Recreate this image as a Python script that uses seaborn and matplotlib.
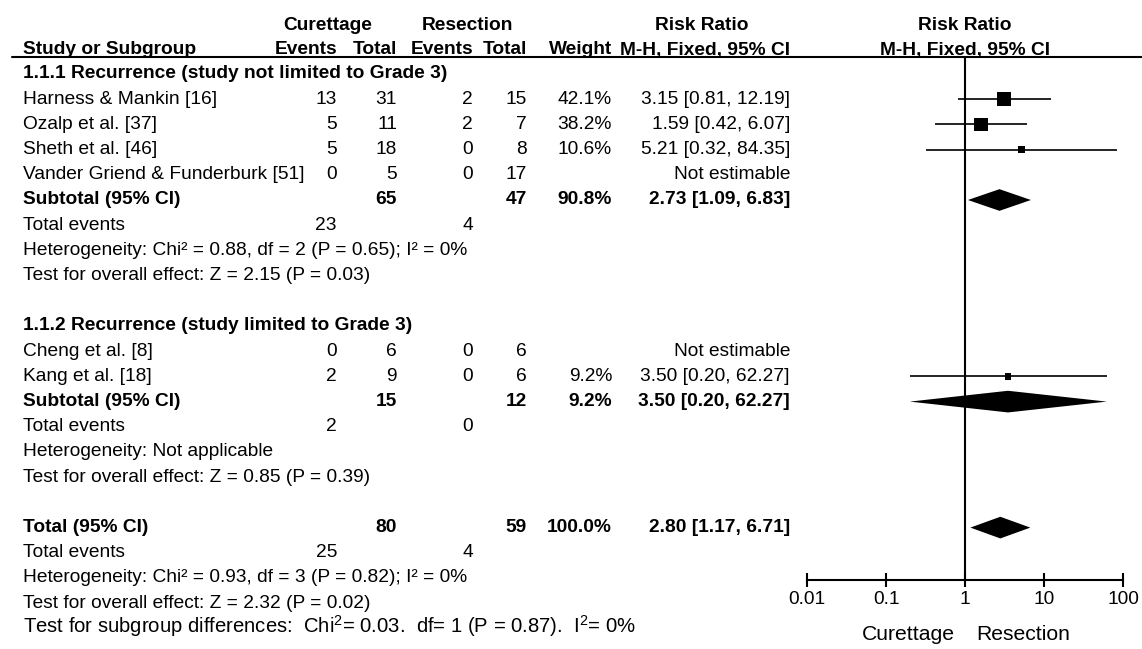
import numpy as np
import pandas as pd
import matplotlib.pyplot as plt
import seaborn as sns

# ---- data ----
groups = ["1.1.1 Recurrence (study not limited to Grade 3)",
          "1.1.2 Recurrence (study limited to Grade 3)"]

studies = ["Harness & Mankin [16]", "Ozalp et al. [37]", "Sheth et al. [46]",
           "Vander Griend & Funderburk [51]", "Cheng et al. [8]", "Kang et al. [18]"]
study_group = [0, 0, 0, 0, 1, 1]
cur_events = [13, 5, 5, 0, 0, 2]
cur_total = [31, 11, 18, 5, 6, 9]
res_events = [2, 2, 0, 0, 0, 0]
res_total = [15, 7, 8, 17, 6, 6]
weights = [42.1, 38.2, 10.6, np.nan, np.nan, 9.2]
rr = [3.15, 1.59, 5.21, np.nan, np.nan, 3.50]
rr_lo = [0.81, 0.42, 0.32, np.nan, np.nan, 0.20]
rr_hi = [12.19, 6.07, 84.35, np.nan, np.nan, 62.27]

# subtotal 1.1.1, subtotal 1.1.2, overall total
pooled_label = ["Subtotal (95% CI)", "Subtotal (95% CI)", "Total (95% CI)"]
pooled_cur_total = [65, 15, 80]
pooled_res_total = [47, 12, 59]
pooled_cur_events = [23, 2, 25]
pooled_res_events = [4, 0, 4]
pooled_weight = [90.8, 9.2, 100.0]
pooled_rr = [2.73, 3.50, 2.80]
pooled_lo = [1.09, 0.20, 1.17]
pooled_hi = [6.83, 62.27, 6.71]
heterogeneity = ["Heterogeneity: Chi² = 0.88, df = 2 (P = 0.65); I² = 0%",
                 "Heterogeneity: Not applicable",
                 "Heterogeneity: Chi² = 0.93, df = 3 (P = 0.82); I² = 0%"]
overall_effect = ["Test for overall effect: Z = 2.15 (P = 0.03)",
                  "Test for overall effect: Z = 0.85 (P = 0.39)",
                  "Test for overall effect: Z = 2.32 (P = 0.02)"]
subgroup_diff = "Test for subgroup differences:  Chi$^2$= 0.03.  df= 1 (P = 0.87).  I$^2$= 0%"

tick_vals = [0.01, 0.1, 1, 10, 100]
tick_labels = ["0.01", "0.1", "1", "10", "100"]

# ---- style ----
sns.set_theme(style="white")
plt.rcParams["font.family"] = ["Liberation Sans", "DejaVu Sans"]
plt.rcParams["mathtext.fontset"] = "custom"
plt.rcParams["mathtext.rm"] = "Liberation Sans"
plt.rcParams["mathtext.it"] = "Liberation Sans:italic"
plt.rcParams["mathtext.bf"] = "Liberation Sans:bold"
FS = 13.8
W, H = 1142, 649
Y0, DY = 74, 25.2  # pixel centre of first table row and row pitch


def ypix(r):
    return Y0 + DY * r


# ---- build table row order ----
rows = []  # (kind, index)
for g in range(2):
    rows.append(("group", g))
    for i, sg in enumerate(study_group):
        if sg == g:
            rows.append(("study", i))
    rows += [("pooled", g), ("events", g), ("het", g), ("effect", g), ("blank", None)]
rows += [("pooled", 2), ("events", 2), ("het", 2), ("effect", 2), ("subgroup", None)]

fig = plt.figure(figsize=(W / 100, H / 100), dpi=100)
tax = fig.add_axes([0, 0, 1, 1])
tax.set_xlim(0, W)
tax.set_ylim(H, 0)
tax.axis("off")

col_x = [337, 397, 473, 527, 612, 790]


def put(x, y, s, ha="left", bold=False, size=FS):
    tax.text(x, y, s, ha=ha, va="center", fontsize=size,
             fontweight="bold" if bold else "normal", color="black")


# headers
for x, s in [(328, "Curettage"), (467, "Resection"), (702, "Risk Ratio"), (965, "Risk Ratio")]:
    put(x, 25, s, ha="center", bold=True)
put(23, 50, "Study or Subgroup", bold=True)
for x, s in zip(col_x, ["Events", "Total", "Events", "Total", "Weight", "M-H, Fixed, 95% CI"]):
    put(x, 50, s, ha="right", bold=True)
put(965, 50, "M-H, Fixed, 95% CI", ha="center", bold=True)
tax.plot([12, W], [57, 57], color="black", lw=1.5)

study_rows = {}
pooled_rows = {}
for r, (kind, k) in enumerate(rows):
    y = ypix(r)
    if kind == "group":
        put(23, y, groups[k], bold=True)
    elif kind == "study":
        study_rows[k] = r
        put(23, y, studies[k])
        vals = [cur_events[k], cur_total[k], res_events[k], res_total[k]]
        for x, v in zip(col_x[:4], vals):
            put(x, y, str(v), ha="right")
        if np.isnan(rr[k]):
            put(col_x[5], y, "Not estimable", ha="right")
        else:
            put(col_x[4], y, f"{weights[k]:.1f}%", ha="right")
            put(col_x[5], y, f"{rr[k]:.2f} [{rr_lo[k]:.2f}, {rr_hi[k]:.2f}]", ha="right")
    elif kind == "pooled":
        pooled_rows[k] = r
        put(23, y, pooled_label[k], bold=True)
        put(col_x[1], y, str(pooled_cur_total[k]), ha="right", bold=True)
        put(col_x[3], y, str(pooled_res_total[k]), ha="right", bold=True)
        put(col_x[4], y, f"{pooled_weight[k]:.1f}%", ha="right", bold=True)
        put(col_x[5], y, f"{pooled_rr[k]:.2f} [{pooled_lo[k]:.2f}, {pooled_hi[k]:.2f}]",
            ha="right", bold=True)
    elif kind == "events":
        put(23, y, "Total events")
        put(col_x[0], y, str(pooled_cur_events[k]), ha="right")
        put(col_x[2], y, str(pooled_res_events[k]), ha="right")
    elif kind == "het":
        put(23, y, heterogeneity[k])
    elif kind == "effect":
        put(23, y, overall_effect[k])
    elif kind == "subgroup":
        put(23, y - 2, subgroup_diff, size=14.6)

# ---- forest panel on a log scale ----
top_px, axis_px = 57, 580
fax = fig.add_axes([807 / W, 1 - axis_px / H, 316 / W, (axis_px - top_px) / H])
fax.patch.set_alpha(0)

df = pd.DataFrame({"rr": rr, "lo": rr_lo, "hi": rr_hi, "weight": weights,
                   "row": [study_rows[i] for i in range(len(studies))]}).dropna()

fax.set_xscale("log")
fax.axvline(1, color="black", lw=1.5, zorder=1)
fax.hlines(df["row"], df["lo"], df["hi"], color="black", lw=1.2, zorder=2)
k_area = 2.5  # marker area (pt^2) per % weight
wmin, wmax = df["weight"].min(), df["weight"].max()
sns.scatterplot(data=df, x="rr", y="row", size="weight", sizes=(k_area * wmin, k_area * wmax),
                size_norm=(wmin, wmax), marker="s", color="black", edgecolor="none",
                legend=False, ax=fax, zorder=3)

half_h = 0.43
for k in range(3):
    r = pooled_rows[k]
    fax.fill([pooled_lo[k], pooled_rr[k], pooled_hi[k], pooled_rr[k]],
             [r, r - half_h, r, r + half_h], color="black", lw=0, zorder=3)

fax.set_xlim(0.01, 100)
fax.set_ylim((axis_px - Y0) / DY, (top_px - Y0) / DY)
fax.set_xticks(tick_vals, labels=tick_labels)
fax.minorticks_off()
fax.set_yticks([])
fax.set_xlabel("")
fax.set_ylabel("")
sns.despine(ax=fax, left=True)
fax.spines["bottom"].set_linewidth(1.5)
fax.spines["bottom"].set_color("black")
fax.tick_params(axis="x", direction="inout", length=10, width=1.5, labelsize=FS,
                pad=3, colors="black", bottom=True)

put(955, 634, "Curettage", ha="right", size=15.2)
put(976, 634, "Resection", ha="left", size=15.2)

fig.savefig("out.png", dpi=100)
